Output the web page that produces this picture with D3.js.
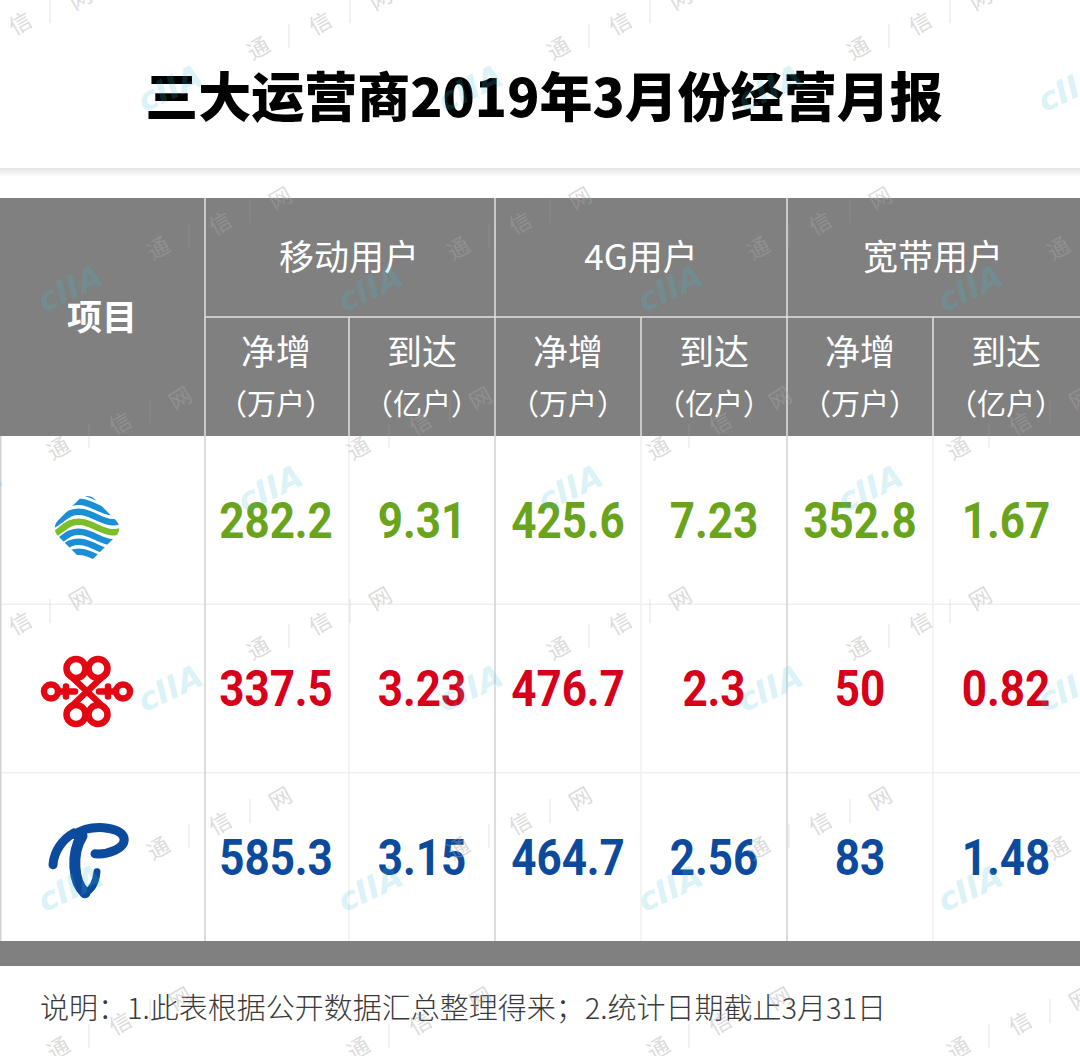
<!DOCTYPE html>
<html>
<head>
<meta charset="utf-8">
<script src="https://cdn.jsdelivr.net/npm/d3@7"></script>
<style>
  body { margin: 0; background: #fff; }
  svg { display: block; }
</style>
</head>
<body>
<svg id="chart"></svg>
<script>
var width = 1080,
  height = 1056;

// data
var title = "三大运营商2019年3月份经营月报";
var operators = ["中国移动", "中国联通", "中国电信"];
var opColors = ["#69a41c", "#d7001b", "#0b4a9c"];
var groups = ["移动用户", "4G用户", "宽带用户"];
var subHeads = ["净增", "到达"];
var subUnits = ["（万户）", "（亿户）"];
var mobileNet = [282.2, 337.5, 585.3];
var mobileTotal = [9.31, 3.23, 3.15];
var fourGNet = [425.6, 476.7, 464.7];
var fourGTotal = [7.23, 2.3, 2.56];
var bbNet = [352.8, 50, 83];
var bbTotal = [1.67, 0.82, 1.48];
var note = "说明：1.此表根据公开数据汇总整理得来；2.统计日期截止3月31日";

var columns = [mobileNet, mobileTotal, fourGNet, fourGTotal, bbNet, bbTotal];

var cjk = "'Noto Sans CJK SC', 'Noto Sans', sans-serif";
var grey = "#808080";

var svg = d3.select("#chart")
  .attr("width", width)
  .attr("height", height);

var headTop = 198, headMid = 317, headBottom = 436, bodyBottom = 941;

var x = d3.scaleBand()
  .domain(d3.range(6))
  .range([203, 1079]);

var xGroup = d3.scaleBand()
  .domain(groups)
  .range([203, 1079]);

var y = d3.scaleBand()
  .domain(operators)
  .range([headBottom, bodyBottom]);

// title + soft shadow under it
var defs = svg.append("defs");
var grad = defs.append("linearGradient").attr("id", "shadow")
  .attr("x1", 0).attr("x2", 0).attr("y1", 0).attr("y2", 1);
grad.append("stop").attr("offset", "0%").attr("stop-color", "#e4e4e4");
grad.append("stop").attr("offset", "100%").attr("stop-color", "#fff");

svg.append("rect")
  .attr("x", 0).attr("y", 168).attr("width", width).attr("height", 9)
  .attr("fill", "url(#shadow)");

svg.append("text")
  .attr("x", 544).attr("y", 97)
  .attr("dy", "0.38em")
  .attr("text-anchor", "middle")
  .style("font-family", cjk)
  .style("font-weight", 900)
  .style("font-size", "53px")
  .attr("fill", "#000")
  .text(title);

// header block
svg.append("rect")
  .attr("x", 0).attr("y", headTop)
  .attr("width", width).attr("height", headBottom - headTop)
  .attr("fill", grey);

var headLines = svg.append("g").attr("stroke", "#e2e2e2").attr("stroke-width", 1.5);
headLines.append("line").attr("x1", 205).attr("x2", 205).attr("y1", headTop).attr("y2", headBottom);
headLines.append("line").attr("x1", 205).attr("x2", width).attr("y1", headMid).attr("y2", headMid);
groups.slice(1).forEach(function (g) {
  headLines.append("line")
    .attr("x1", xGroup(g)).attr("x2", xGroup(g))
    .attr("y1", headTop).attr("y2", headBottom);
});
d3.range(6).filter(function (i) { return i % 2 == 1; }).forEach(function (i) {
  headLines.append("line")
    .attr("x1", x(i)).attr("x2", x(i))
    .attr("y1", headMid).attr("y2", headBottom);
});

svg.append("text")
  .attr("x", 102).attr("y", 317).attr("dy", "0.38em")
  .attr("text-anchor", "middle")
  .style("font-family", cjk).style("font-weight", 700).style("font-size", "35px")
  .attr("fill", "#fff")
  .text("项目");

svg.append("g").selectAll("text")
  .data(groups)
  .enter().append("text")
  .attr("x", function (d) { return xGroup(d) + xGroup.bandwidth() / 2; })
  .attr("y", 257).attr("dy", "0.38em")
  .attr("text-anchor", "middle")
  .style("font-family", cjk).style("font-weight", 400).style("font-size", "35px")
  .attr("fill", "#fff")
  .text(function (d) { return d; });

var sub = svg.append("g").selectAll("g")
  .data(d3.range(6))
  .enter().append("g")
  .attr("transform", function (d) { return "translate(" + (x(d) + x.bandwidth() / 2) + ",0)"; });

sub.append("text")
  .attr("y", 352).attr("dy", "0.38em")
  .attr("text-anchor", "middle")
  .style("font-family", cjk).style("font-size", "35px")
  .attr("fill", "#fff")
  .text(function (d) { return subHeads[d % 2]; });

sub.append("text")
  .attr("y", 404).attr("dy", "0.38em")
  .attr("text-anchor", "middle")
  .style("font-family", cjk).style("font-size", "29px")
  .attr("fill", "#fff")
  .text(function (d) { return subUnits[d % 2]; });

// body grid
var body = svg.append("g");
operators.slice(1).forEach(function (o) {
  body.append("line")
    .attr("x1", 0).attr("x2", width)
    .attr("y1", y(o)).attr("y2", y(o))
    .attr("stroke", "#efefef").attr("stroke-width", 1.5);
});
d3.range(6).filter(function (i) { return i % 2 == 1; }).forEach(function (i) {
  body.append("line")
    .attr("x1", x(i)).attr("x2", x(i))
    .attr("y1", headBottom).attr("y2", bodyBottom)
    .attr("stroke", "#efefef").attr("stroke-width", 1.5);
});
[0.75, 205].concat(groups.slice(1).map(function (g) { return xGroup(g); })).forEach(function (px) {
  body.append("line")
    .attr("x1", px).attr("x2", px)
    .attr("y1", headBottom).attr("y2", bodyBottom)
    .attr("stroke", "#d2d2d2").attr("stroke-width", 1.5);
});

svg.append("rect")
  .attr("x", 0).attr("y", bodyBottom)
  .attr("width", width).attr("height", 25)
  .attr("fill", grey);

// values
columns.forEach(function (col, ci) {
  svg.append("g").selectAll("g")
    .data(col)
    .enter().append("g")
    .attr("transform", function (d, i) {
      return "translate(" + (x(ci) + x.bandwidth() / 2) + "," + (y(operators[i]) + y.bandwidth() / 2) + ")";
    })
    .append("text")
    .attr("transform", "scale(0.88,1)")
    .attr("dy", "0.355em")
    .attr("text-anchor", "middle")
    .style("font-family", "Roboto, sans-serif")
    .style("font-weight", 700)
    .style("font-size", "50px")
    .attr("fill", function (d, i) { return opColors[i]; })
    .text(function (d) { return d; });
});

// logos
function logoPos(i) {
  return [87, y(operators[i]) + y.bandwidth() / 2 + [8, 3, 3][i]];
}

// china mobile
var cm = svg.append("g").attr("transform", "translate(" + logoPos(0) + ")");
defs.append("clipPath").attr("id", "cmClip")
  .append("rect")
  .attr("x", -26).attr("y", -26).attr("width", 52).attr("height", 52)
  .attr("rx", 11).attr("transform", "rotate(45)");
var cmClip = cm.append("g").attr("clip-path", "url(#cmClip)");
[-30, -20, -10, 0, 10, 20, 30].forEach(function (o) {
  cmClip.append("path")
    .attr("d", "M-45," + (o + 10) + " C-28," + (o + 10) + " -22," + (o - 10) + " -4," + (o - 6) +
      " S22," + (o + 12) + " 45," + (o - 2))
    .attr("fill", "none")
    .attr("stroke", o == 0 ? "#7cbd2a" : "#1b8fd6")
    .attr("stroke-width", 6.5);
});

// china unicom knot
var cu = svg.append("g").attr("transform", "translate(" + logoPos(1) + ")")
  .attr("fill", "none").attr("stroke", "#e30613").attr("stroke-width", 6.5)
  .attr("stroke-linecap", "round");
[-1, 1].forEach(function (s) {
  cu.append("circle").attr("cx", -11).attr("cy", s * 23).attr("r", 9.5);
  cu.append("circle").attr("cx", 11).attr("cy", s * 23).attr("r", 9.5);
  cu.append("circle").attr("cx", s * 36).attr("cy", 0).attr("r", 7);
  cu.append("line").attr("x1", s * 28).attr("y1", 0).attr("x2", s * 12).attr("y2", 0);
  cu.append("line").attr("x1", s * 21).attr("y1", -5).attr("x2", s * 21).attr("y2", 5);
});
cu.append("line").attr("x1", -19).attr("y1", -18).attr("x2", 19).attr("y2", 18);
cu.append("line").attr("x1", 19).attr("y1", -18).attr("x2", -19).attr("y2", 18);

// china telecom
var ct = svg.append("g").attr("transform", "translate(" + logoPos(2) + ")")
  .attr("fill", "none").attr("stroke", "#0b4a9c").attr("stroke-linecap", "round");
ct.append("path")
  .attr("d", "M-12,-25 C2,-36 34,-34 37,-22 C39,-11 20,-5 8,-6")
  .attr("stroke-width", 9);
ct.append("path")
  .attr("d", "M-34,5 C-33,-9 -24,-21 -13,-27")
  .attr("stroke-width", 9);
ct.append("path")
  .attr("d", "M-5,-24 C-16,-6 -14,22 -2,33")
  .attr("stroke-width", 11);
ct.append("path")
  .attr("d", "M-2,33 C5,30 9,22 10,12")
  .attr("stroke-width", 7);

// footnote
svg.append("text")
  .attr("x", 40).attr("y", 1008).attr("dy", "0.38em")
  .style("font-family", cjk).style("font-size", "29px").style("font-weight", 300)
  .attr("fill", "#3a3a3a")
  .text(note);

// watermark
var wm = svg.append("g").style("pointer-events", "none");
for (var j = -1; j < 7; j++) {
  for (var i = -1; i < 6; i++) {
    var wx = 258 + 300 * i - 100 * j,
      wy = 48 + 200 * j;
    var chars = wm.append("g").attr("transform", "translate(" + wx + "," + wy + ")");
    [["通", 0, 0], ["信", 62, -25], ["网", 122, -50]].forEach(function (c) {
      chars.append("text")
        .attr("transform", "translate(" + c[1] + "," + c[2] + ") rotate(-30)")
        .attr("text-anchor", "middle").attr("dy", "0.38em")
        .style("font-family", cjk).style("font-size", "22px")
        .attr("fill", "#a8a8a8").attr("opacity", 0.4)
        .text(c[0]);
    });
    [[31, -12], [92, -37]].forEach(function (p) {
      chars.append("line")
        .attr("x1", p[0]).attr("x2", p[0]).attr("y1", p[1] - 12).attr("y2", p[1] + 12)
        .attr("stroke", "#a8a8a8").attr("opacity", 0.3);
    });
    wm.append("text")
      .attr("transform", "translate(" + (wx - 88) + "," + (wy + 40) + ") rotate(-25)")
      .attr("text-anchor", "middle").attr("dy", "0.35em")
      .style("font-family", "'DejaVu Sans', sans-serif")
      .style("font-weight", 700).style("font-style", "italic").style("font-size", "32px")
      .attr("fill", "#3cc3d4").attr("opacity", 0.18)
      .text("cIIA");
  }
}
</script>
</body>
</html>
